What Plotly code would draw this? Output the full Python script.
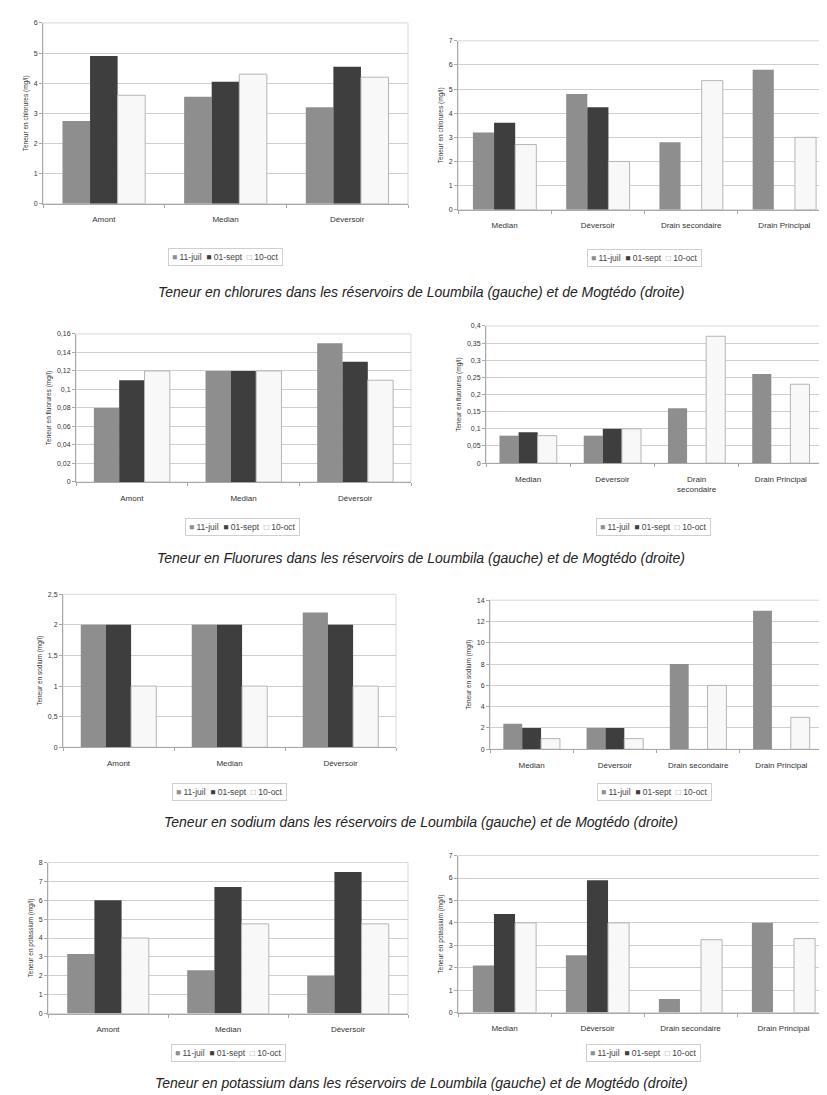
import plotly.graph_objects as go

W, H = 827, 1095

series_names = ["11-juil", "01-sept", "10-oct"]
series_colors = ["#8e8e8e", "#3e3e3e", "#f8f8f8"]

cats_loumbila = ["Amont", "Median", "Déversoir"]
cats_mogtedo = ["Median", "Déversoir", "Drain secondaire", "Drain Principal"]
cats_mogtedo_wrap = ["Median", "Déversoir", "Drain<br>secondaire", "Drain Principal"]

# Chlorures
chl_loumbila_juil = [2.75, 3.55, 3.2]
chl_loumbila_sept = [4.9, 4.05, 4.55]
chl_loumbila_oct = [3.6, 4.3, 4.2]
chl_mogtedo_juil = [3.2, 4.8, 2.8, 5.8]
chl_mogtedo_sept = [3.6, 4.25, None, None]
chl_mogtedo_oct = [2.7, 2.0, 5.35, 3.0]

# Fluorures
flu_loumbila_juil = [0.08, 0.12, 0.15]
flu_loumbila_sept = [0.11, 0.12, 0.13]
flu_loumbila_oct = [0.12, 0.12, 0.11]
flu_mogtedo_juil = [0.08, 0.08, 0.16, 0.26]
flu_mogtedo_sept = [0.09, 0.10, None, None]
flu_mogtedo_oct = [0.08, 0.10, 0.37, 0.23]

# Sodium
sod_loumbila_juil = [2.0, 2.0, 2.2]
sod_loumbila_sept = [2.0, 2.0, 2.0]
sod_loumbila_oct = [1.0, 1.0, 1.0]
sod_mogtedo_juil = [2.4, 2.0, 8.0, 13.0]
sod_mogtedo_sept = [2.0, 2.0, None, None]
sod_mogtedo_oct = [1.0, 1.0, 6.0, 3.0]

# Potassium
pot_loumbila_juil = [3.15, 2.3, 2.0]
pot_loumbila_sept = [6.0, 6.7, 7.5]
pot_loumbila_oct = [4.0, 4.75, 4.75]
pot_mogtedo_juil = [2.1, 2.55, 0.6, 4.0]
pot_mogtedo_sept = [4.4, 5.9, None, None]
pot_mogtedo_oct = [4.0, 4.0, 3.25, 3.3]

y_titles = ["Teneur en chlorures (mg/l)", "Teneur en fluorures (mg/l)",
            "Teneur en sodium (mg/l)", "Teneur en potassium (mg/l)"]
captions = [
    "Teneur en chlorures dans les réservoirs de Loumbila (gauche) et de Mogtédo (droite)",
    "Teneur en Fluorures dans les réservoirs de Loumbila (gauche) et de Mogtédo (droite)",
    "Teneur en sodium dans les réservoirs de Loumbila (gauche) et de Mogtédo (droite)",
    "Teneur en potassium dans les réservoirs de Loumbila (gauche) et de Mogtédo (droite)",
]

# panel layout: (categories, series, y max, dtick, ytitle index, plot px box x0,x1,y0(top),y1(bottom), legend center x,y)
panels = [
    (cats_loumbila, [chl_loumbila_juil, chl_loumbila_sept, chl_loumbila_oct], 6, 1, 0, (35, 400, 11, 193), (218, 247)),
    (cats_mogtedo, [chl_mogtedo_juil, chl_mogtedo_sept, chl_mogtedo_oct], 7, 1, 0, (450, 823, 29, 199), (636, 248)),
    (cats_loumbila, [flu_loumbila_juil, flu_loumbila_sept, flu_loumbila_oct], 0.16, 0.02, 1, (68, 403, 324, 473), (234, 518)),
    (cats_mogtedo_wrap, [flu_mogtedo_juil, flu_mogtedo_sept, flu_mogtedo_oct], 0.4, 0.05, 1, (478, 815, 316, 454), (645, 518)),
    (cats_loumbila, [sod_loumbila_juil, sod_loumbila_sept, sod_loumbila_oct], 2.5, 0.5, 2, (55, 388, 586, 740), (221, 785)),
    (cats_mogtedo, [sod_mogtedo_juil, sod_mogtedo_sept, sod_mogtedo_oct], 14, 2, 2, (482, 815, 592, 742), (646, 785)),
    (cats_loumbila, [pot_loumbila_juil, pot_loumbila_sept, pot_loumbila_oct], 8, 1, 3, (40, 400, 856, 1008), (220, 1048)),
    (cats_mogtedo, [pot_mogtedo_juil, pot_mogtedo_sept, pot_mogtedo_oct], 7, 1, 3, (450, 822, 849, 1007), (635, 1048)),
]
caption_y = [282, 550, 815, 1078]

FONT = "Liberation Sans Narrow, Liberation Sans, Arial, sans-serif"
fig = go.Figure()
layout_axes = {}
annotations = []

legend_text = "  ".join(
    f'<span style="color:{"#9a9a9a" if i == 2 else c}">{"□" if i == 2 else "■"}</span> {n}'
    for i, (n, c) in enumerate(zip(series_names, series_colors))
)

for k, (cats, series, ymax, dtick, ti, (x0, x1, yt, yb), (lx, ly)) in enumerate(panels):
    idx = "" if k == 0 else str(k + 1)
    for s, (name, color, vals) in enumerate(zip(series_names, series_colors, series)):
        fig.add_trace(go.Bar(
            x=cats, y=vals, name=name,
            marker=dict(color=color,
                        line=dict(color="#b5b5b5" if s == 2 else color, width=1 if s == 2 else 0)),
            xaxis="x" + idx, yaxis="y" + idx, showlegend=False,
        ))
    layout_axes["xaxis" + idx] = dict(
        domain=[x0 / W, x1 / W], anchor="y" + idx,
        showline=True, linecolor="#a8a8a8", linewidth=1, mirror=False,
        ticks="outside", tickson="boundaries", ticklen=3, tickcolor="#a8a8a8",
        ticklabelstandoff=8,
        tickfont=dict(family=FONT, size=8, color="#333"),
        showgrid=False, fixedrange=True,
    )
    layout_axes["yaxis" + idx] = dict(
        domain=[1 - yb / H, 1 - yt / H], anchor="x" + idx,
        range=[0, ymax], dtick=dtick,
        showline=True, linecolor="#a8a8a8", linewidth=1,
        ticks="outside", ticklen=3, tickcolor="#a8a8a8",
        showgrid=True, gridcolor="#cfcfcf", gridwidth=1,
        tickfont=dict(family=FONT, size=7, color="#333"),
        title=dict(text=y_titles[ti], font=dict(family=FONT, size=6.5, color="#333"), standoff=4),
        zeroline=False, fixedrange=True,
    )
    fig.add_shape(type="rect", xref=f"x{idx} domain", yref=f"y{idx} domain",
                  x0=0, x1=1, y0=0, y1=1, line=dict(color="#d8d8d8", width=1), layer="below")
    annotations.append(dict(
        text=legend_text, x=lx / W, y=1 - ly / H, xref="paper", yref="paper",
        xanchor="center", yanchor="middle", showarrow=False,
        font=dict(family=FONT, size=8.5, color="#444"),
        bordercolor="#cfcfcf", borderwidth=1, borderpad=3, bgcolor="white",
    ))

for cap, cy in zip(captions, caption_y):
    annotations.append(dict(
        text=f"<i>{cap}</i>", x=413 / W, y=1 - cy / H, xref="paper", yref="paper",
        xanchor="center", yanchor="middle", showarrow=False,
        font=dict(family="Liberation Sans, Arial, sans-serif", size=14, color="#222"),
    ))

fig.update_layout(
    width=W, height=H, margin=dict(l=0, r=0, t=0, b=0),
    paper_bgcolor="white", plot_bgcolor="white",
    barmode="group", bargap=0.32, bargroupgap=0,
    separators=", ", showlegend=False,
    annotations=annotations, **layout_axes,
)

fig.write_html("out.html")
